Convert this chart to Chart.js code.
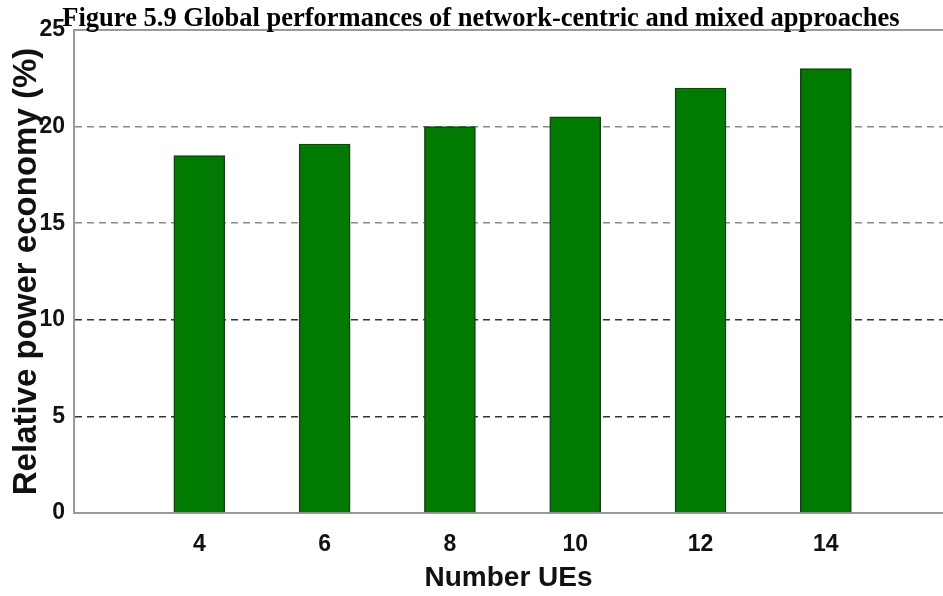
<!DOCTYPE html>
<html>
<head>
<meta charset="utf-8">
<script src="https://cdn.jsdelivr.net/npm/chart.js@4.4.1/dist/chart.umd.min.js"></script>
<style>
  body { margin: 0; background: #fff; }
  #wrap { width: 943px; height: 596px; }
</style>
</head>
<body>
<div id="wrap"><canvas id="chart" width="943" height="596"></canvas></div>
<script>
let figTitle = "Figure 5.9 Global performances of network-centric and mixed approaches"
let ues = [4, 6, 8, 10, 12, 14]           // Number UEs
let economy = [18.5, 19.1, 20.0, 20.5, 22.0, 23.0]  // Relative power economy (%)
let yTicks = [0, 5, 10, 15, 20, 25]

// figure caption sits over the top of the plot, so draw it after everything
let captionPlugin = {
    id: 'caption',
    afterDraw(chart) {
        let c = chart.ctx
        c.save()
        c.font = 'bold 26.5px "Liberation Serif"'
        c.fillStyle = '#000'
        c.textAlign = 'center'
        c.textBaseline = 'alphabetic'
        c.fillText(figTitle, 481, 26)
        c.restore()
    }
}

let tickFont = { family: '"Liberation Sans", Arial', weight: 'bold', size: 23 }

let ctx = document.getElementById('chart').getContext('2d')
new Chart(ctx, {
    type: 'bar',
    data: {
        datasets: [{
            data: ues.map((u, i) => ({ x: u, y: economy[i] })),
            backgroundColor: '#007a00',
            borderColor: '#173f17',
            borderWidth: 1.5,
            borderSkipped: 'bottom',
            barThickness: 51
        }]
    },
    options: {
        responsive: false,
        animation: false,
        layout: { padding: { top: 30, right: 0, left: 0, bottom: 0 } },
        plugins: { legend: { display: false }, tooltip: { enabled: false } },
        scales: {
            x: {
                type: 'linear',
                offset: false,
                min: 2,
                max: 15.87,
                afterBuildTicks: (s) => { s.ticks = ues.map(v => ({ value: v })) },
                afterFit: (s) => { s.height = 83 },
                grid: { display: false, offset: false },
                border: { display: true, color: '#9a9a9a', width: 2 },
                ticks: {
                    color: '#111',
                    font: tickFont,
                    padding: 10,
                    maxRotation: 0
                },
                title: {
                    display: true,
                    text: 'Number UEs',
                    color: '#111',
                    font: { family: '"Liberation Sans", Arial', weight: 'bold', size: 28, lineHeight: 1 },
                    padding: { top: 0, bottom: 4 }
                }
            },
            x2: {
                type: 'linear',
                position: 'top',
                offset: false,
                min: 2,
                max: 15.87,
                afterFit: (s) => { s.height = 0 },
                grid: { display: false },
                border: { display: true, color: '#9a9a9a', width: 2 },
                ticks: { display: false }
            },
            y: {
                min: 0,
                max: 25,
                afterBuildTicks: (s) => { s.ticks = yTicks.map(v => ({ value: v })) },
                afterFit: (s) => { s.width = 74 },
                grid: {
                    drawTicks: false,
                    lineWidth: 1.5,
                    color: (c) => {
                        let v = c.tick.value
                        if (v == 0 || v == 25) return 'rgba(0,0,0,0)'
                        return v >= 15 ? '#8a8a8a' : '#333'
                    }
                },
                border: { display: true, color: '#9a9a9a', width: 2, dash: [7, 5] },
                ticks: {
                    color: '#111',
                    font: tickFont,
                    padding: 9
                },
                title: {
                    display: true,
                    text: 'Relative power economy (%)',
                    color: '#111',
                    font: { family: '"Liberation Sans", Arial', weight: 'bold', size: 33, lineHeight: 1.2 },
                    padding: { top: 7, bottom: 0 }
                }
            }
        }
    },
    plugins: [captionPlugin]
})
</script>
</body>
</html>
